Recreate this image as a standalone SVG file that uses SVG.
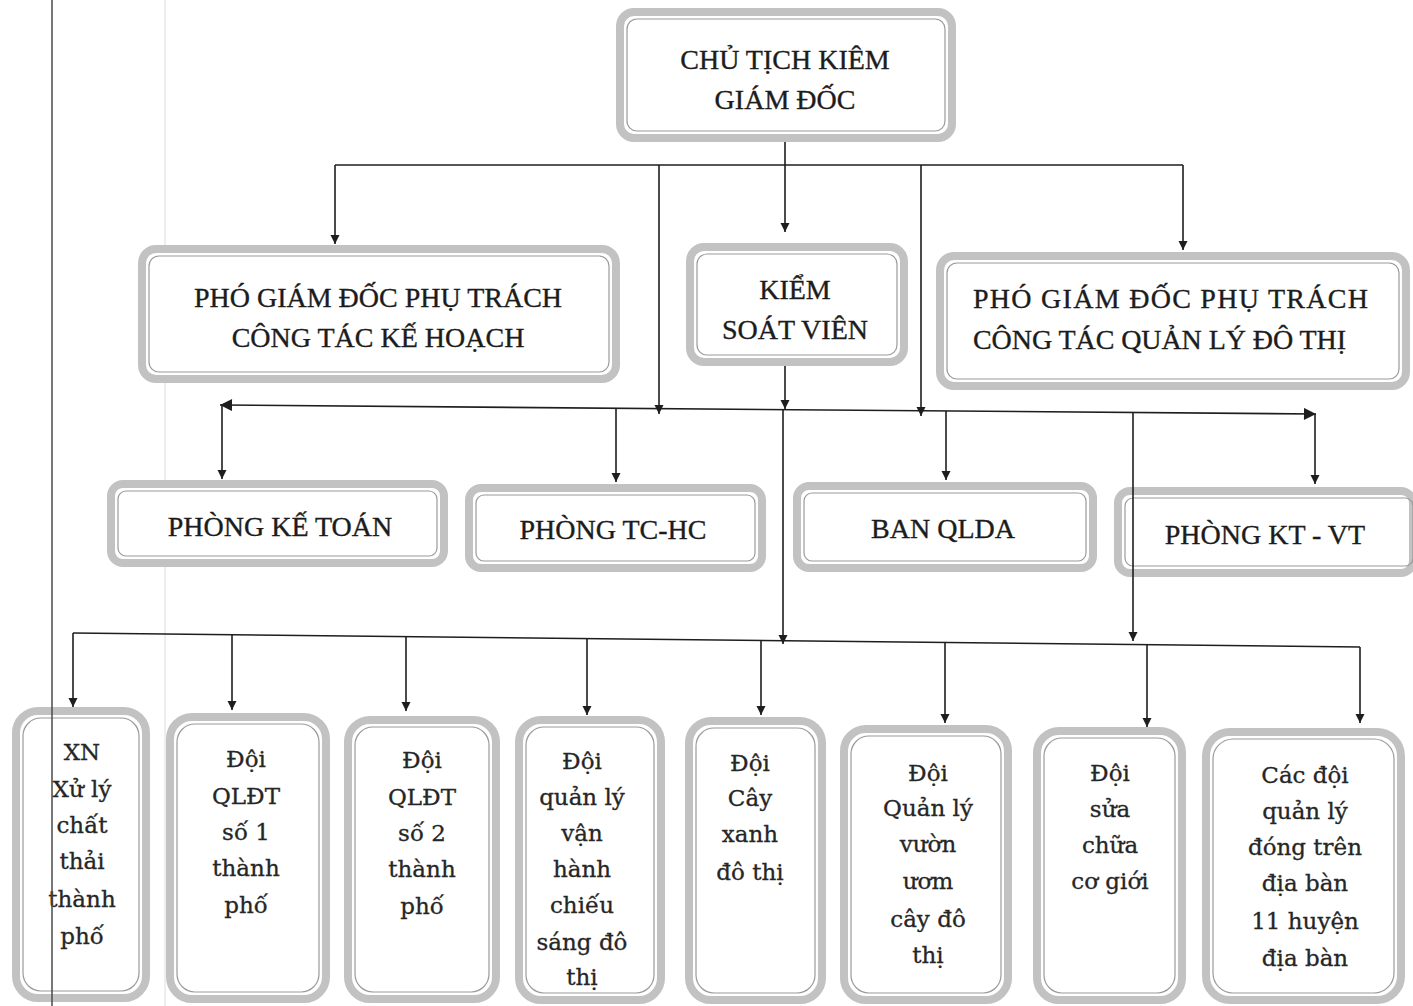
<svg xmlns="http://www.w3.org/2000/svg" width="1413" height="1006" viewBox="0 0 1413 1006">
<style>
.ob{fill:#fff;stroke:#c2c2c2;stroke-width:8}
.ib{fill:none;stroke:#9a9a9a;stroke-width:1.2}
.t{font-family:"Liberation Serif","Times New Roman",serif;font-size:28px;fill:#1c1c1c;stroke:#1c1c1c;stroke-width:0.35;text-anchor:middle}
.b{font-family:"DejaVu Serif","Liberation Serif",serif;font-size:23px;fill:#262626;stroke:#262626;stroke-width:0.3;text-anchor:middle}
.c{stroke:#1e1e1e;stroke-width:1.6;fill:none}
</style>
<defs>
<marker id="ah" viewBox="0 0 10 10" refX="10" refY="5" markerWidth="9" markerHeight="14" markerUnits="userSpaceOnUse" orient="auto-start-reverse">
<path d="M0,0 L10,5 L0,10 z" fill="#1e1e1e"/>
</marker>
<marker id="ah2" viewBox="0 0 10 10" refX="10" refY="5" markerWidth="14" markerHeight="12" markerUnits="userSpaceOnUse" orient="auto-start-reverse">
<path d="M0,0 L10,5 L0,10 z" fill="#1e1e1e"/>
</marker>
</defs>
<rect width="1413" height="1006" fill="#fff"/>
<line x1="165" y1="0" x2="165" y2="1006" stroke="#dcdcdc" stroke-width="1"/>

<g id="n-chutich">
<rect class="ob" x="620" y="12" width="332" height="126" rx="14"/>
<rect class="ib" x="627" y="19" width="318" height="112" rx="10"/>
<text class="t" x="785" y="69">CHỦ TỊCH KIÊM</text>
<text class="t" x="785" y="109">GIÁM ĐỐC</text>
</g>
<g id="n-pgd-kh">
<rect class="ob" x="142" y="249" width="474" height="130" rx="14"/>
<rect class="ib" x="149" y="256" width="460" height="116" rx="10"/>
<text class="t" x="378" y="307">PHÓ GIÁM ĐỐC PHỤ TRÁCH</text>
<text class="t" x="378" y="347">CÔNG TÁC KẾ HOẠCH</text>
</g>
<g id="n-ksv">
<rect class="ob" x="690" y="247" width="214" height="115" rx="14"/>
<rect class="ib" x="697" y="254" width="200" height="101" rx="10"/>
<text class="t" x="795" y="299">KIỂM</text>
<text class="t" x="795" y="339">SOÁT VIÊN</text>
</g>
<g id="n-pgd-qldt">
<rect class="ob" x="940" y="256" width="466" height="130" rx="14"/>
<rect class="ib" x="947" y="263" width="452" height="116" rx="10"/>
<text class="t" x="973" y="308" style="text-anchor:start" textLength="395">PHÓ GIÁM ĐỐC PHỤ TRÁCH</text>
<text class="t" x="973" y="349" style="text-anchor:start" textLength="373">CÔNG TÁC QUẢN LÝ ĐÔ THỊ</text>
</g>
<g id="n-ketoan">
<rect class="ob" x="111" y="484" width="333" height="79" rx="12"/>
<rect class="ib" x="118" y="491" width="319" height="65" rx="8"/>
<text class="t" x="280" y="536">PHÒNG KẾ TOÁN</text>
</g>
<g id="n-tchc">
<rect class="ob" x="469" y="488" width="293" height="80" rx="12"/>
<rect class="ib" x="476" y="495" width="279" height="66" rx="8"/>
<text class="t" x="613" y="539">PHÒNG TC-HC</text>
</g>
<g id="n-qlda">
<rect class="ob" x="797" y="486" width="296" height="82" rx="12"/>
<rect class="ib" x="804" y="493" width="282" height="68" rx="8"/>
<text class="t" x="943" y="538">BAN QLDA</text>
</g>
<g id="n-ktvt">
<rect class="ob" x="1118" y="491" width="295" height="82" rx="12"/>
<rect class="ib" x="1125" y="498" width="288" height="68" rx="8"/>
<text class="t" x="1265" y="544">PHÒNG KT - VT</text>
</g>

<g id="n-xn">
<rect class="ob" x="16" y="711" width="130" height="287" rx="22"/>
<rect class="ib" x="23" y="718" width="116" height="273" rx="18"/>
<text class="b" x="82" y="760">XN</text>
<text class="b" x="82" y="797">Xử lý</text>
<text class="b" x="82" y="833">chất</text>
<text class="b" x="82" y="869">thải</text>
<text class="b" x="82" y="907">thành</text>
<text class="b" x="82" y="944">phố</text>
</g>
<g id="n-qldt1">
<rect class="ob" x="170" y="717" width="156" height="282" rx="22"/>
<rect class="ib" x="177" y="724" width="142" height="268" rx="18"/>
<text class="b" x="246" y="767">Đội</text>
<text class="b" x="246" y="804">QLĐT</text>
<text class="b" x="246" y="840">số 1</text>
<text class="b" x="246" y="876">thành</text>
<text class="b" x="246" y="913">phố</text>
</g>
<g id="n-qldt2">
<rect class="ob" x="348" y="720" width="148" height="279" rx="22"/>
<rect class="ib" x="355" y="727" width="134" height="265" rx="18"/>
<text class="b" x="422" y="768">Đội</text>
<text class="b" x="422" y="805">QLĐT</text>
<text class="b" x="422" y="841">số 2</text>
<text class="b" x="422" y="877">thành</text>
<text class="b" x="422" y="914">phố</text>
</g>
<g id="n-chieusang">
<rect class="ob" x="519" y="720" width="142" height="280" rx="22"/>
<rect class="ib" x="526" y="727" width="128" height="266" rx="18"/>
<text class="b" x="582" y="769">Đội</text>
<text class="b" x="582" y="805">quản lý</text>
<text class="b" x="582" y="841">vận</text>
<text class="b" x="582" y="877">hành</text>
<text class="b" x="582" y="913">chiếu</text>
<text class="b" x="582" y="950">sáng đô</text>
<text class="b" x="582" y="985">thị</text>
</g>
<g id="n-cayxanh">
<rect class="ob" x="689" y="721" width="133" height="279" rx="22"/>
<rect class="ib" x="696" y="728" width="119" height="265" rx="18"/>
<text class="b" x="750" y="771">Đội</text>
<text class="b" x="750" y="806">Cây</text>
<text class="b" x="750" y="842">xanh</text>
<text class="b" x="750" y="880">đô thị</text>
</g>
<g id="n-vuonuom">
<rect class="ob" x="844" y="729" width="164" height="271" rx="22"/>
<rect class="ib" x="851" y="736" width="150" height="257" rx="18"/>
<text class="b" x="928" y="781">Đội</text>
<text class="b" x="928" y="816">Quản lý</text>
<text class="b" x="928" y="852">vườn</text>
<text class="b" x="928" y="889">ươm</text>
<text class="b" x="928" y="927">cây đô</text>
<text class="b" x="928" y="963">thị</text>
</g>
<g id="n-suachua">
<rect class="ob" x="1037" y="731" width="145" height="269" rx="22"/>
<rect class="ib" x="1044" y="738" width="131" height="255" rx="18"/>
<text class="b" x="1110" y="781">Đội</text>
<text class="b" x="1110" y="817">sửa</text>
<text class="b" x="1110" y="853">chữa</text>
<text class="b" x="1110" y="889">cơ giới</text>
</g>
<g id="n-huyen">
<rect class="ob" x="1206" y="732" width="195" height="268" rx="24"/>
<rect class="ib" x="1213" y="739" width="181" height="254" rx="20"/>
<text class="b" x="1305" y="783">Các đội</text>
<text class="b" x="1305" y="819">quản lý</text>
<text class="b" x="1305" y="855">đóng trên</text>
<text class="b" x="1305" y="891">địa bàn</text>
<text class="b" x="1305" y="929">11 huyện</text>
<text class="b" x="1305" y="966">địa bàn</text>
</g>

<g id="connectors" class="c">
<line x1="785" y1="142" x2="785" y2="232" marker-end="url(#ah)"/>
<line x1="335" y1="165" x2="1183" y2="165"/>
<line x1="335" y1="165" x2="335" y2="244" marker-end="url(#ah)"/>
<line x1="1183" y1="165" x2="1183" y2="250" marker-end="url(#ah)"/>
<line x1="659" y1="165" x2="659" y2="414" marker-end="url(#ah)"/>
<line x1="921" y1="165" x2="921" y2="416" marker-end="url(#ah)"/>
<line x1="785" y1="366" x2="785" y2="409" marker-end="url(#ah)"/>
<line x1="220" y1="405" x2="1316" y2="414" marker-start="url(#ah2)" marker-end="url(#ah2)"/>
<line x1="222" y1="405" x2="222" y2="479" marker-end="url(#ah)"/>
<line x1="616" y1="408" x2="616" y2="482" marker-end="url(#ah)"/>
<line x1="946" y1="411" x2="946" y2="480" marker-end="url(#ah)"/>
<line x1="1315" y1="414" x2="1315" y2="484" marker-end="url(#ah)"/>
<line x1="1133" y1="412" x2="1133" y2="641" marker-end="url(#ah)"/>
<line x1="783" y1="409" x2="783" y2="644" marker-end="url(#ah)"/>
<line x1="73" y1="633" x2="1360" y2="647"/>
<line x1="73" y1="633" x2="73" y2="707" marker-end="url(#ah)"/>
<line x1="232" y1="635" x2="232" y2="710" marker-end="url(#ah)"/>
<line x1="406" y1="637" x2="406" y2="711" marker-end="url(#ah)"/>
<line x1="587" y1="639" x2="587" y2="715" marker-end="url(#ah)"/>
<line x1="761" y1="641" x2="761" y2="715" marker-end="url(#ah)"/>
<line x1="945" y1="643" x2="945" y2="723" marker-end="url(#ah)"/>
<line x1="1147" y1="645" x2="1147" y2="727" marker-end="url(#ah)"/>
<line x1="1360" y1="647" x2="1360" y2="723" marker-end="url(#ah)"/>
</g>
<line x1="52" y1="0" x2="52" y2="1006" stroke="#4a4a4a" stroke-width="1.5"/>
</svg>
